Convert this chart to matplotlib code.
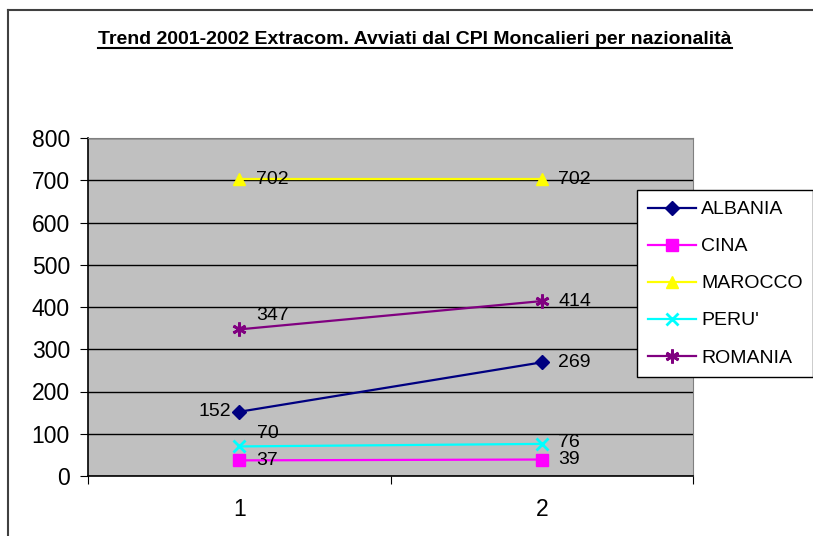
import matplotlib.pyplot as plt
from matplotlib.lines import Line2D

plt.rcParams['font.family'] = ['Liberation Sans', 'DejaVu Sans']

periodi = [1, 2]
paesi = ['ALBANIA', 'CINA', 'MAROCCO', "PERU'", 'ROMANIA']
albania = [152, 269]
cina = [37, 39]
marocco = [702, 702]
peru = [70, 76]
romania = [347, 414]

serie = [albania, cina, marocco, peru, romania]
colori = ['#000080', '#FF00FF', '#FFFF00', '#00FFFF', '#800080']
marker = ['D', 's', '^', 'x', (6, 2, 0)]
msize = [7, 8, 9, 9, 10]
# offset (punti) delle etichette dati: primo e secondo punto
offs = [
    [(-6, 0, 'right'), (12, 0, 'left')],
    [(12, 0, 'left'), (12, 0, 'left')],
    [(12, 0, 'left'), (12, 0, 'left')],
    [(13, 9, 'left'), (12, 1, 'left')],
    [(12, 10, 'left'), (12, 0, 'left')],
]

fig = plt.figure(figsize=(8.13, 5.36), dpi=100)
ax = fig.add_axes([88 / 813, 1 - 476 / 536, 605 / 813, 338 / 536])
ax.set_facecolor('#C0C0C0')

for i, vals in enumerate(serie):
    ax.plot(periodi, vals, color=colori[i], marker=marker[i], markersize=msize[i],
            markeredgewidth=2 if marker[i] in ('x', (6, 2, 0)) else 1,
            linewidth=1.6, label=paesi[i], zorder=3)
    for j, v in enumerate(vals):
        dx, dy, ha = offs[i][j]
        ax.annotate(str(v), (periodi[j], v), xytext=(dx, dy), textcoords='offset points',
                    ha=ha, va='center', fontsize=14, zorder=4)

ax.set_xlim(0.5, 2.5)
ax.set_ylim(0, 800)
ax.set_yticks(range(0, 801, 100))
ax.yaxis.grid(True, color='black', linewidth=1)
ax.set_axisbelow(True)
ax.set_xticks([0.5, 1.5, 2.5])
ax.set_xticklabels([])
ax.tick_params(axis='x', direction='out', length=6, color='black')
ax.tick_params(axis='y', direction='out', length=6, labelsize=16.5, pad=7)
for p in periodi:
    ax.text(p, -0.1, str(p), transform=ax.get_xaxis_transform(), ha='center', va='center', fontsize=16.5)
ax.spines['top'].set_color('#808080')
ax.spines['right'].set_color('#808080')
ax.spines['left'].set_linewidth(1.2)
ax.spines['bottom'].set_linewidth(1.2)

leg = ax.legend(loc='upper left', bbox_to_anchor=(637 / 813, 1 - 190 / 536), bbox_transform=fig.transFigure,
                fontsize=14, frameon=True, fancybox=False, edgecolor='black', framealpha=1,
                handlelength=2.5, labelspacing=1.0, borderpad=0.55, handletextpad=0.25,
                borderaxespad=0)
leg.get_frame().set_linewidth(1)

title = fig.text(415 / 813, 1 - 40 / 536, 'Trend 2001-2002 Extracom. Avviati dal CPI Moncalieri per nazionalità',
                 ha='center', va='center', fontsize=14, fontweight='bold')
fig.canvas.draw()
bb = title.get_window_extent().transformed(fig.transFigure.inverted())
fig.add_artist(Line2D([bb.x0, bb.x1], [bb.y0 + 0.001, bb.y0 + 0.001], color='black', linewidth=1.5))

# cornice esterna del grafico
fig.add_artist(Line2D([8 / 813, 1], [1 - 10 / 536, 1 - 10 / 536], color='#404040', linewidth=1.5))
fig.add_artist(Line2D([8 / 813, 8 / 813], [0, 1 - 10 / 536], color='#404040', linewidth=1.5))

fig.savefig('out.png', dpi=100)
